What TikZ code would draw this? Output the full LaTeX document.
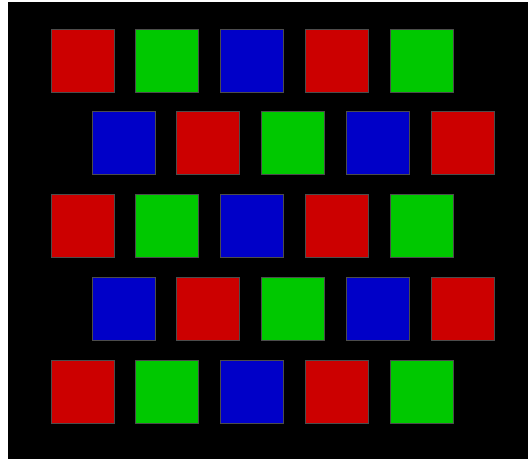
\documentclass[tikz,border=0pt]{standalone}
\definecolor{pxR}{RGB}{204,0,0}
\definecolor{pxG}{RGB}{0,200,0}
\definecolor{pxB}{RGB}{0,0,200}
\begin{document}
\begin{tikzpicture}[x=1pt,y=-1pt,
  sq/.style={draw=gray!60!black, line width=0.6pt, minimum size=63pt, inner sep=0pt, outer sep=0pt, anchor=north west}]
\useasboundingbox (0,0) rectangle (529,459);
\fill[white] (0,0) rectangle (529,459);
\fill[black] (8,2) rectangle (528,459);
\foreach \r in {0,...,4}{
  \foreach \c/\colA/\colB in {0/pxR/pxB,1/pxG/pxR,2/pxB/pxG,3/pxR/pxB,4/pxG/pxR}{
    \pgfmathsetmacro{\odd}{mod(\r,2)}
    \pgfmathsetmacro{\xx}{51+84.75*\c+41*\odd}
    \pgfmathsetmacro{\yy}{29+82.75*\r}
    \ifdim\odd pt>0.5pt
      \node[sq, fill=\colB] (s\r\c) at (\xx,\yy) {};
    \else
      \node[sq, fill=\colA] (s\r\c) at (\xx,\yy) {};
    \fi
  }
}
\end{tikzpicture}
\end{document}
